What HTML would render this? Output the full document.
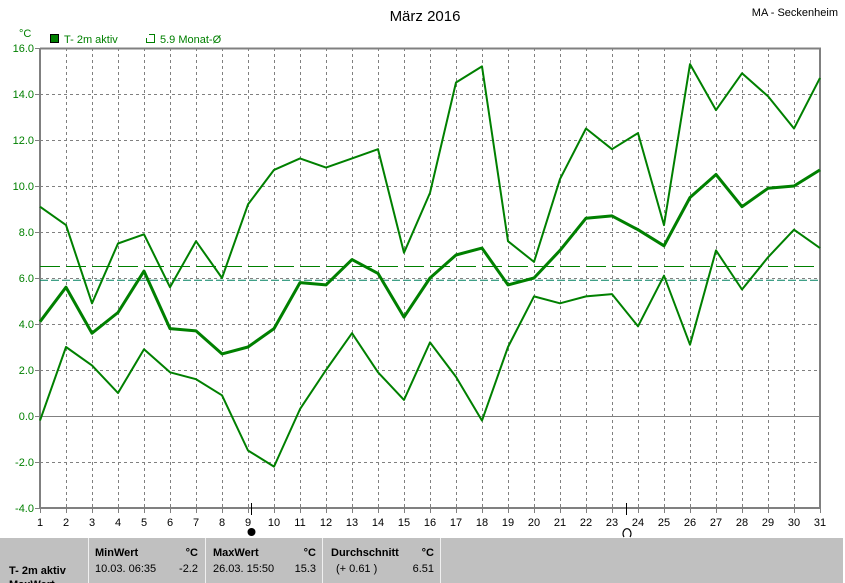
<!DOCTYPE html>
<html><head><meta charset="utf-8"><style>
body{margin:0;background:#fff;width:845px;height:583px;overflow:hidden;font-family:"Liberation Sans",sans-serif}
svg{position:absolute;left:0;top:0}
</style></head><body>
<svg id="s" width="845" height="583" xmlns="http://www.w3.org/2000/svg" font-family="Liberation Sans, sans-serif">
<text x="425" y="21" font-size="15" text-anchor="middle" fill="#000">März 2016</text>
<text x="838" y="16" font-size="11" text-anchor="end" fill="#000">MA - Seckenheim</text>
<text x="19" y="37" font-size="11" fill="#008000">°C</text>
<rect x="50.5" y="34.5" width="8" height="8" fill="#008000" stroke="#000"/>
<text x="64" y="43" font-size="11" fill="#008000">T- 2m aktiv</text>
<path d="M149 34.5 H154.5 V42.5 H146.5 V38" fill="none" stroke="#008000"/>
<text x="160" y="43" font-size="11" fill="#008000">5.9 Monat-Ø</text>
<g id="grid"></g>
<g id="data"></g>
<rect x="0" y="538" width="843" height="45" fill="#c0c0c0"/>
<line x1="843.5" y1="538" x2="843.5" y2="583" stroke="#fff"/>
<g stroke="#f0f0f0" stroke-width="1"><line x1="88.5" y1="538" x2="88.5" y2="583"/><line x1="205.5" y1="538" x2="205.5" y2="583"/><line x1="322.5" y1="538" x2="322.5" y2="583"/><line x1="440.5" y1="538" x2="440.5" y2="583"/></g>
<g font-size="11" fill="#000">
<text x="95" y="556" font-weight="bold">MinWert</text><text x="198" y="556" text-anchor="end" font-weight="bold">°C</text>
<text x="95" y="572">10.03.  06:35</text><text x="198" y="572" text-anchor="end">-2.2</text>
<text x="213" y="556" font-weight="bold">MaxWert</text><text x="316" y="556" text-anchor="end" font-weight="bold">°C</text>
<text x="213" y="572">26.03.  15:50</text><text x="316" y="572" text-anchor="end">15.3</text>
<text x="331" y="556" font-weight="bold">Durchschnitt</text><text x="434" y="556" text-anchor="end" font-weight="bold">°C</text>
<text x="336" y="572">(+ 0.61 )</text><text x="434" y="572" text-anchor="end">6.51</text>
<text x="9" y="574" font-weight="bold">T- 2m aktiv</text>
<text x="9" y="588" font-weight="bold">MaxWert</text>
</g>
<line x1="251.5" y1="503" x2="251.5" y2="515" stroke="#000"/>
<circle cx="251.5" cy="532" r="4" fill="#000"/>
<line x1="626.5" y1="503" x2="626.5" y2="515" stroke="#000"/>
<path d="M624 537 A4 5 0 1 1 630 537" fill="none" stroke="#000" stroke-width="1.2"/>
</svg>
<script>
var NS="http://www.w3.org/2000/svg";
function el(p,t,a,txt){var e=document.createElementNS(NS,t);for(var k in a)e.setAttribute(k,a[k]);if(txt!==undefined)e.textContent=txt;p.appendChild(e);return e;}
var g=document.getElementById('grid'),d=document.getElementById('data');
function X(i){return 40+(i-1)*26;}function Y(v){return 48+(16-v)*23;}
for(var i=2;i<=30;i++)el(g,'line',{x1:X(i)+.5,y1:48,x2:X(i)+.5,y2:508,stroke:'#808080','stroke-dasharray':'3,3'});
for(var v=14;v>-4;v-=2){if(v==0)el(g,'line',{x1:40,y1:Y(v)+.5,x2:820,y2:Y(v)+.5,stroke:'#808080'});else el(g,'line',{x1:40,y1:Y(v)+.5,x2:820,y2:Y(v)+.5,stroke:'#808080','stroke-dasharray':'3,3'});}
el(g,'path',{d:'M40 48.5H821M40 508H821M40 48V509M820 48V509',stroke:'#808080','stroke-width':2,fill:'none'});
for(var v=16;v>=-4;v-=2){el(g,'text',{x:34,y:Y(v)+4,'font-size':11,'text-anchor':'end',fill:'#008000'},v.toFixed(1));el(g,'line',{x1:35,y1:Y(v)+.5,x2:40,y2:Y(v)+.5,stroke:'#808080'});}
for(var i=1;i<=31;i++){el(g,'text',{x:X(i),y:526,'font-size':11,'text-anchor':'middle',fill:'#000'},i);el(g,'line',{x1:X(i)+.5,y1:508,x2:X(i)+.5,y2:513,stroke:'#808080'});}
el(d,'line',{x1:40,y1:Y(6.5),x2:820,y2:Y(6.5),stroke:'#008000','stroke-dasharray':'20,6'});
el(d,'line',{x1:40,y1:Y(5.9),x2:820,y2:Y(5.9),stroke:'#008060','stroke-dasharray':'8,3'});
var mx=[9.1,8.3,4.9,7.5,7.9,5.6,7.6,6.0,9.2,10.7,11.2,10.8,11.2,11.6,7.1,9.7,14.5,15.2,7.6,6.7,10.3,12.5,11.6,12.3,8.3,15.3,13.3,14.9,13.9,12.5,14.7];
var mn=[4.1,5.6,3.6,4.5,6.3,3.8,3.7,2.7,3.0,3.8,5.8,5.7,6.8,6.2,4.3,6.0,7.0,7.3,5.7,6.0,7.2,8.6,8.7,8.1,7.4,9.5,10.5,9.1,9.9,10.0,10.7];
var mi=[-0.2,3.0,2.2,1.0,2.9,1.9,1.6,0.9,-1.5,-2.2,0.3,2.0,3.6,1.9,0.7,3.2,1.7,-0.2,3.0,5.2,4.9,5.2,5.3,3.9,6.1,3.1,7.2,5.5,6.9,8.1,7.3];
function pl(a,w){el(d,'polyline',{points:a.map(function(v,i){return X(i+1)+','+Y(v)}).join(' '),fill:'none',stroke:'#008000','stroke-width':w,'stroke-linejoin':'round'});}
pl(mx,2);pl(mi,2);pl(mn,3);
</script>
</body></html>
